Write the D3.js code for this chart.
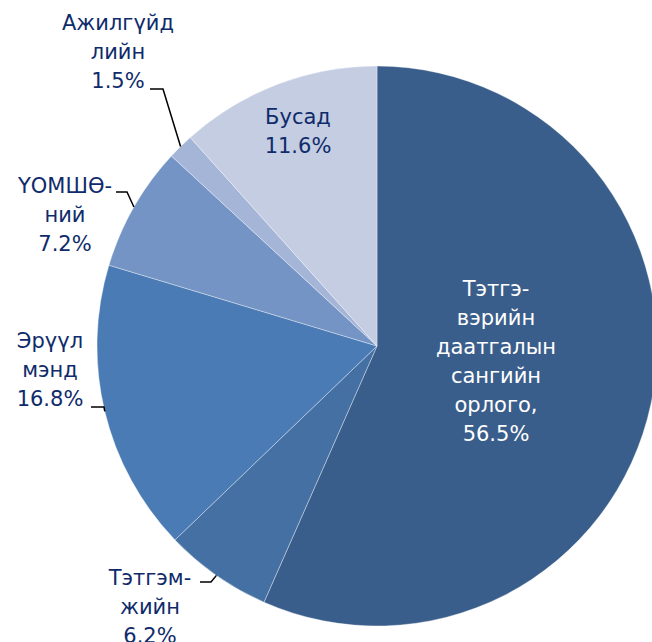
<!DOCTYPE html>
<html>
<head>
<meta charset="utf-8">
<script src="https://cdn.jsdelivr.net/npm/d3@7"></script>
<style>
  html, body { margin: 0; padding: 0; background: #fff; }
  svg text { font-family: "DejaVu Sans", Verdana, sans-serif; }
</style>
</head>
<body>
<div id="chart"></div>
<script>
// ── DATA ─────────────────────────────────────
const LABELS = [
  ['Тэтгэ-', 'вэрийн', 'даатгалын', 'сангийн', 'орлого,'],
  ['Тэтгэм-', 'жийн'],
  ['Эрүүл', 'мэнд'],
  ['ҮОМШӨ-', 'ний'],
  ['Ажилгүйд', 'лийн'],
  ['Бусад']
];
const VALUES = [56.5, 6.2, 16.8, 7.2, 1.5, 11.6];
const COLORS = ['#3a5e8b', '#4470a3', '#4a7bb5', '#7494c5', '#a4b5d7', '#c4cde2'];

// ── LAYOUT ───────────────────────────────────
const W = 652, H = 642;
const CX = 377, CY = 346, R = 280;
const FS = 21, LH = 29;

// outside labels: text centre, first baseline, leader elbow, leader end
const OUTSIDE = {
  1: { x: 150, y: 585, ex: 211, ey: 582, hx: 200 },
  2: { x: 50,  y: 348, ex: 104, ey: 407, hx: 91 },
  3: { x: 65,  y: 193, ex: 127, ey: 192, hx: 116 },
  4: { x: 118, y: 30,  ex: 163, ey: 89,  hx: 150 }
};
// inside labels: text centre, first baseline
const INSIDE = {
  0: { x: 496, y: 296, fill: '#fff' },
  5: { x: 298, y: 124, fill: '#0f2b6b' }
};

const svg = d3.select('#chart').append('svg')
  .attr('width', W).attr('height', H);

const g = svg.append('g').attr('transform', `translate(${CX},${CY})`);

const pie = d3.pie().sort(null).value(d => d);
const arcs = pie(VALUES);
const arc = d3.arc().innerRadius(0).outerRadius(R);

g.selectAll('path')
  .data(arcs)
  .enter()
  .append('path')
  .attr('d', arc)
  .attr('fill', (d, i) => COLORS[i])
  .attr('stroke', '#fff')
  .attr('stroke-width', 0.6)
  .attr('stroke-opacity', 0.6);

// ── LABELS ───────────────────────────────────
function writeLines(x, y, lines, fill) {
  const t = svg.append('text')
    .attr('x', x).attr('y', y)
    .attr('text-anchor', 'middle')
    .attr('font-size', FS)
    .attr('fill', fill);
  lines.forEach((s, k) => {
    t.append('tspan').attr('x', x).attr('y', y + k * LH).text(s);
  });
}

arcs.forEach((a, i) => {
  const pct = VALUES[i].toFixed(1) + '%';
  const lines = LABELS[i].concat([pct]);
  if (INSIDE[i]) {
    writeLines(INSIDE[i].x, INSIDE[i].y, lines, INSIDE[i].fill);
    return;
  }
  const o = OUTSIDE[i];
  const mid = (a.startAngle + a.endAngle) / 2;
  const px = CX + R * Math.sin(mid);
  const py = CY - R * Math.cos(mid);
  svg.append('polyline')
    .attr('points', `${px},${py} ${o.ex},${o.ey} ${o.hx},${o.ey}`)
    .attr('fill', 'none')
    .attr('stroke', '#000')
    .attr('stroke-width', 1.5);
  writeLines(o.x, o.y, lines, '#0f2b6b');
});
</script>
</body>
</html>
